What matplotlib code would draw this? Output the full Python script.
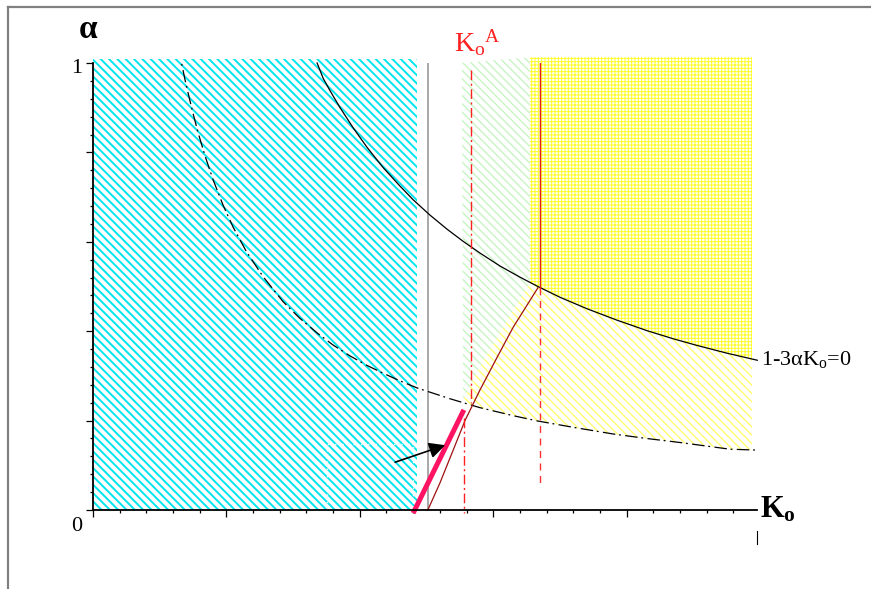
import numpy as np
import matplotlib
matplotlib.use('Agg')
import matplotlib.pyplot as plt
from matplotlib.lines import Line2D

plt.rcParams['font.family'] = ['Liberation Serif', 'DejaVu Sans']
plt.rcParams['mathtext.fontset'] = 'custom'
plt.rcParams['mathtext.rm'] = 'Liberation Serif'
plt.rcParams['mathtext.it'] = 'Liberation Serif:italic'
plt.rcParams['mathtext.bf'] = 'Liberation Serif:bold'

# curve 1 - 3*alpha*Ko = 0 (solid)
solid_K = [0.336, 0.345, 0.355, 0.370, 0.390, 0.411, 0.435, 0.460, 0.480, 0.505, 0.531, 0.555,
           0.580, 0.610, 0.640, 0.667, 0.700, 0.741, 0.785, 0.831, 0.870, 0.906, 0.950, 0.996]
solid_a = [1.000, 0.966, 0.939, 0.901, 0.855, 0.811, 0.766, 0.725, 0.694, 0.660, 0.628, 0.601,
           0.575, 0.546, 0.521, 0.500, 0.476, 0.450, 0.425, 0.401, 0.383, 0.368, 0.351, 0.335]

# dash-dot curve
dd_K = [0.133, 0.138, 0.144, 0.150, 0.158, 0.168, 0.180, 0.195, 0.210, 0.230, 0.255, 0.285,
        0.310, 0.336, 0.360, 0.385, 0.410, 0.435, 0.460, 0.486, 0.535, 0.580, 0.630, 0.667,
        0.720, 0.780, 0.830, 0.880, 0.920, 0.955, 0.996]
dd_a = [0.998, 0.962, 0.924, 0.887, 0.842, 0.792, 0.739, 0.682, 0.633, 0.578, 0.522, 0.466,
        0.429, 0.396, 0.369, 0.345, 0.324, 0.306, 0.289, 0.273, 0.249, 0.229, 0.211, 0.199,
        0.185, 0.170, 0.160, 0.151, 0.143, 0.136, 0.134]

# thin dark red curve
brown_K = [0.502, 0.520, 0.540, 0.558, 0.580, 0.606, 0.630, 0.667]
brown_a = [0.000, 0.060, 0.134, 0.201, 0.268, 0.342, 0.409, 0.497]

# thick pink segment
pink_K = [0.480, 0.556]
pink_a = [-0.007, 0.224]

# region corners
cyan_K = [0.0, 0.486]
cyan_top = 1.008
green_K = [0.553, 0.655, 0.655, 0.580, 0.555]
green_a = [1.000, 1.013, 0.508, 0.320, 0.246]
region_right = 0.988
region_top = 1.013

# vertical markers
Ko_A_upper = 0.567
Ko_A_lower = 0.556
K_red = 0.670
K_gray = 0.502

fig = plt.figure(figsize=(8.71, 5.89), dpi=100)
ax = fig.add_axes([93 / 871, 79 / 589, 667 / 871, 447 / 589])
ax.set_xlim(0, 1)
ax.set_ylim(0, 1)


def hatch_fill(xs, ys, color, hatch, lw):
    p = ax.fill(xs, ys, facecolor='none', edgecolor=color, hatch=hatch,
                linewidth=0, clip_on=False, zorder=1)[0]
    if hasattr(p, 'set_hatch_linewidth'):
        p.set_hatch_linewidth(lw)
    return p


plt.rcParams['hatch.linewidth'] = 1.3
# cyan region
hatch_fill([cyan_K[0], cyan_K[1], cyan_K[1], cyan_K[0]], [0, 0, cyan_top, cyan_top],
           '#00e6f0', '\\\\\\\\', 1.4)

# green region
hatch_fill(green_K, green_a, '#c6f5c2', '\\\\\\\\', 1.0)

# yellow diagonal region: below solid curve, above dash-dot curve
sK = np.array(solid_K)
sa = np.array(solid_a)
dK = np.array(dd_K)
da = np.array(dd_a)
m1 = (sK > 0.66) & (sK <= region_right)
m2 = (dK >= 0.58) & (dK <= region_right)
yx = [green_K[4], green_K[3], green_K[2]] + list(sK[m1]) + [region_right, region_right] \
    + list(dK[m2][::-1]) + [green_K[4]]
ya = [green_a[4], green_a[3], green_a[2]] + list(sa[m1]) + [0.338, 0.135] \
    + list(da[m2][::-1]) + [0.240]
hatch_fill(yx, ya, '#ffff70', '\\\\\\\\', 1.0)

# yellow cross-hatch region above solid curve
cx = [green_K[1], region_right, region_right] + list(sK[m1][::-1]) + [green_K[2]]
ca = [region_top, region_top, 0.338] + list(sa[m1][::-1]) + [green_a[2]]
hatch_fill(cx, ca, '#ffff2a', '+++++', 0.7)

# curves
ax.plot(solid_K, solid_a, color='black', lw=0.9, zorder=4, clip_on=False)
ax.plot(dd_K, dd_a, color='black', lw=0.9, zorder=4, clip_on=False,
        linestyle=(0, (1.5, 3.5, 10, 3)))
ax.plot(brown_K, brown_a, color='#a01010', lw=0.9, zorder=4, clip_on=False)
ax.plot(pink_K, pink_a, color='#ff1464', lw=3.6, zorder=5, clip_on=False,
        solid_capstyle='butt')

# vertical lines
ax.plot([K_gray, K_gray], [0, 1.0], color='#a8a8a8', lw=1.4, zorder=3)
ax.plot([Ko_A_upper, Ko_A_upper], [0.985, 0.239], color='#ff2020', lw=1.0, zorder=4,
        linestyle=(0, (7, 2.5, 1.5, 2.5)))
ax.plot([Ko_A_lower, Ko_A_lower], [0.206, -0.007], color='#ff2020', lw=1.0, zorder=4,
        linestyle=(0, (7, 2.5, 1.5, 2.5)), clip_on=False)
ax.plot([K_red, K_red], [1.0, 0.497], color='#e02020', lw=1.0, zorder=4)
ax.plot([K_red, K_red], [0.497, 0.049], color='#ff3030', lw=1.0, zorder=4,
        linestyle=(0, (5, 4)))

# faint white dotted box inside the cyan area
ax.plot([0.351, 0.351, 0.480, 0.480], [0.0, 0.148, 0.148, 0.0], color='white',
        lw=1.0, linestyle=':', zorder=2)

# arrow
ax.annotate('', xy=(0.528, 0.145), xytext=(0.453, 0.107),
            arrowprops=dict(arrowstyle='-|>', color='black', lw=1.2,
                            mutation_scale=24, shrinkA=0, shrinkB=0), zorder=6)

# axes styling
for s in ['top', 'right']:
    ax.spines[s].set_visible(False)
ax.spines['left'].set_linewidth(1.3)
ax.spines['bottom'].set_linewidth(1.3)
ax.spines['bottom'].set_bounds(0, 0.995)
ax.spines['left'].set_zorder(7)
ax.spines['bottom'].set_zorder(7)
ax.set_xticks([0, 0.2, 0.4, 0.6, 0.8])
ax.set_xticks(np.arange(1, 25) * 0.04, minor=True)
ax.set_yticks([0, 0.2, 0.4, 0.6, 0.8, 1.0])
ax.set_yticks(np.arange(1, 25) * 0.04, minor=True)
ax.tick_params(which='major', direction='out', length=5, width=0.9,
               labelbottom=False, labelleft=False)
ax.tick_params(which='minor', direction='out', length=2.5, width=0.9)
ax.set_facecolor('none')

# labels
ax.text(-0.0075, 1.074, 'α', fontsize=24, fontweight='bold', ha='center', va='center')
ax.text(-0.016, 0.987, '1', fontsize=16, ha='right', va='center')
ax.text(-0.024, -0.036, '0', fontsize=16, ha='center', va='center')
ax.text(1.0, 0.0, r'K$_\mathbf{o}$', fontsize=22, fontweight='bold', ha='left', va='center')
ax.text(1.002, 0.336, r'1-3αK$_\mathrm{o}$=0', fontsize=16, ha='left', va='center')
ax.text(0.541, 1.045, r'K$_\mathrm{o}{}^\mathrm{A}$', fontsize=20, color='#ff2020',
        ha='left', va='center')
ax.plot([0.995, 0.995], [-0.048, -0.075], color='black', lw=0.8, clip_on=False)

# outer frame
fig.add_artist(Line2D([8 / 871, 1], [1 - 7 / 589, 1 - 7 / 589], color='#808080', lw=1.6))
fig.add_artist(Line2D([8 / 871, 8 / 871], [0, 1 - 7 / 589], color='#808080', lw=1.6))

fig.savefig('out.png', dpi=100)
